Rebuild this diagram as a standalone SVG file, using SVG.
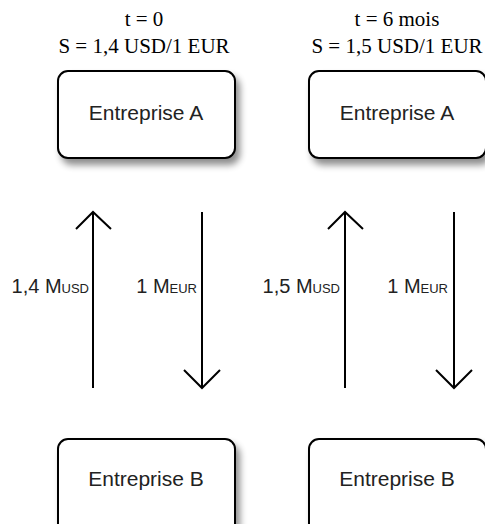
<svg xmlns="http://www.w3.org/2000/svg" width="485" height="524" viewBox="0 0 485 524">
<defs>
<filter id="sh" x="-10%" y="-10%" width="130%" height="140%">
<feGaussianBlur in="SourceAlpha" stdDeviation="3.5"/>
<feOffset dx="4" dy="6" result="b"/>
<feComponentTransfer><feFuncA type="linear" slope="0.45"/></feComponentTransfer>
<feMerge><feMergeNode/><feMergeNode in="SourceGraphic"/></feMerge>
</filter>
</defs>
<style>
.box{fill:#fff;stroke:#000;stroke-width:2}
.nt{font-family:"Liberation Sans",Arial,sans-serif;font-size:21px;fill:#222;text-anchor:middle}
.tt{font-family:"Liberation Serif","Times New Roman",serif;font-size:21px;fill:#000;text-anchor:middle}
.lb{font-family:"Liberation Sans",Arial,sans-serif;font-size:20px;fill:#222;text-anchor:end}
.sc{font-size:13px}
.ar{fill:none;stroke:#000;stroke-width:2}
</style>
<rect width="485" height="524" fill="#fff"/>
<g id="title-left">
<text class="tt" x="144" y="26">t = 0</text>
<text class="tt" x="144" y="53">S = 1,4 USD/1 EUR</text>
</g>
<g id="title-right">
<text class="tt" x="397" y="26">t = 6 mois</text>
<text class="tt" x="397" y="53">S = 1,5 USD/1 EUR</text>
</g>
<g id="A1"><rect class="box" x="58" y="71" width="177" height="87" rx="10" filter="url(#sh)"/><text class="nt" x="146" y="120">Entreprise A</text></g>
<g id="A2"><rect class="box" x="309" y="71" width="177" height="87" rx="10" filter="url(#sh)"/><text class="nt" x="397" y="120">Entreprise A</text></g>
<g id="B1"><rect class="box" x="58" y="439" width="177" height="100" rx="10" filter="url(#sh)"/><text class="nt" x="146" y="486">Entreprise B</text></g>
<g id="B2"><rect class="box" x="309" y="439" width="177" height="100" rx="10" filter="url(#sh)"/><text class="nt" x="397" y="486">Entreprise B</text></g>
<g id="connectors">
<path class="ar" d="M93,388V212M76,229L93,212L111,229"/>
<path class="ar" d="M202,212V388M184,370L202,388L220,370"/>
<path class="ar" d="M345,388V212M328,229L345,212L363,229"/>
<path class="ar" d="M454,212V388M436,370L454,388L472,370"/>
</g>
<g id="labels">
<text class="lb" x="89" y="293">1,4 M<tspan class="sc">USD</tspan></text>
<text class="lb" x="197" y="293">1 M<tspan class="sc">EUR</tspan></text>
<text class="lb" x="340" y="293">1,5 M<tspan class="sc">USD</tspan></text>
<text class="lb" x="448" y="293">1 M<tspan class="sc">EUR</tspan></text>
</g>
</svg>
